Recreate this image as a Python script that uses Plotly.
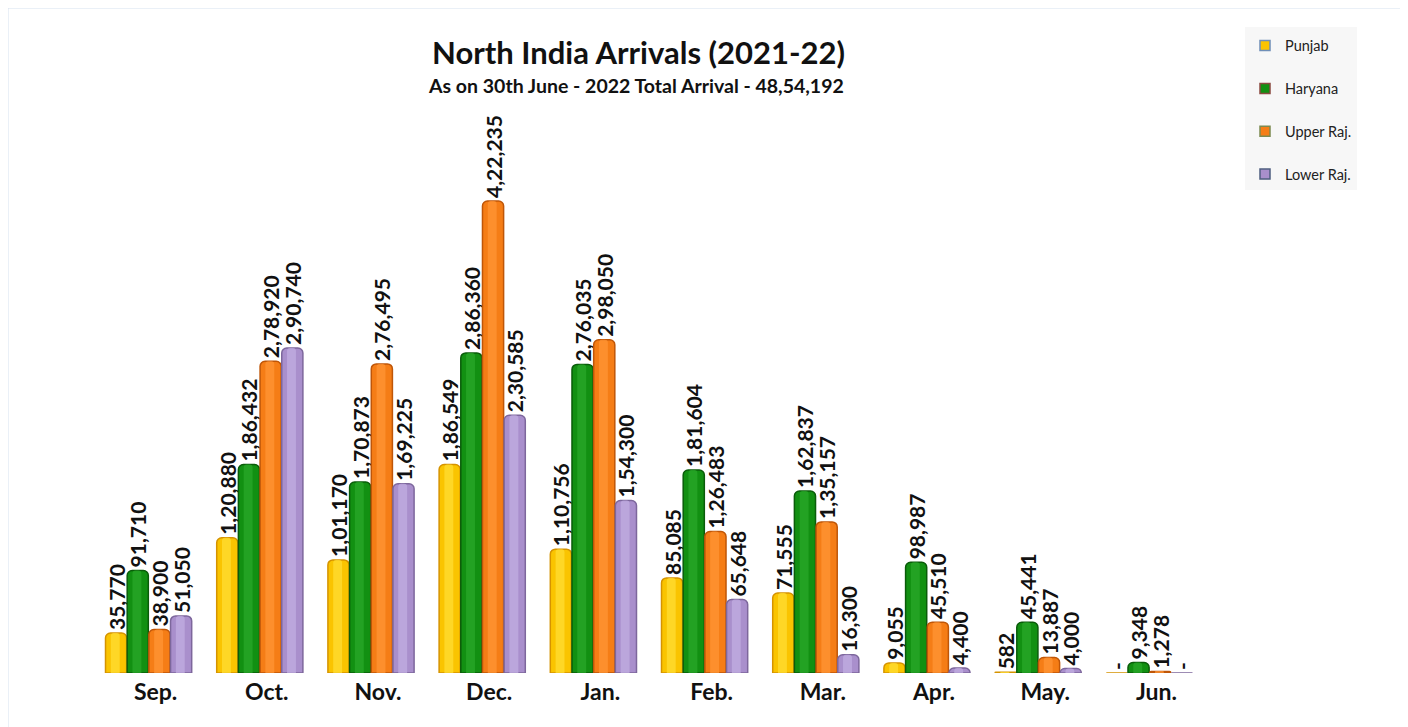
import plotly.graph_objects as go

months = ["Sep.", "Oct.", "Nov.", "Dec.", "Jan.", "Feb.", "Mar.", "Apr.", "May.", "Jun."]
punjab = [35770, 120880, 101170, 186549, 110756, 85085, 71555, 9055, 582, 0]
haryana = [91710, 186432, 170873, 286360, 276035, 181604, 162837, 98987, 45441, 9348]
upper_raj = [38900, 278920, 276495, 422235, 298050, 126483, 135157, 45510, 13887, 1278]
lower_raj = [51050, 290740, 169225, 230585, 154300, 65648, 16300, 4400, 4000, 0]

title_text = "North India Arrivals (2021-22)"
subtitle_text = "As on 30th June - 2022 Total Arrival - 48,54,192"


def indian(n):
    if n == 0:
        return "-"
    s = str(int(n))
    if len(s) <= 3:
        return s
    last3 = s[-3:]
    rest = s[:-3]
    parts = []
    while len(rest) > 2:
        parts.insert(0, rest[-2:])
        rest = rest[:-2]
    if rest:
        parts.insert(0, rest)
    return ",".join(parts) + "," + last3


# name, values, body colour, edge colour, highlight colour, legend edge
series = [
    ("Punjab", punjab, "#FAC400", "#D59300", "#FFDD33", "#6F8FB8"),
    ("Haryana", haryana, "#129012", "#0A5C0A", "#2AA82A", "#8A4A40"),
    ("Upper Raj.", upper_raj, "#F57D16", "#BF5608", "#FF9636", "#7C8A50"),
    ("Lower Raj.", lower_raj, "#A98FCC", "#7D679C", "#C2AEE2", "#4F5F80"),
]

FONT = "Lato, Carlito, Calibri, 'Open Sans', sans-serif"

# page offset (body margin) compensation
OFF = 8
PL, PR, PT, PB = 93, 1205, 100, 673  # plot area in page pixels
PW, PH = PR - PL, PB - PT

BAR_W = 0.19
STEP = 0.195
START = -(3 * STEP + BAR_W) / 2
HL_W = 0.08


def px(xp):
    return (xp - PL) / PW


def py(yp):
    return (PB - yp) / PH


fig = go.Figure()
for i, (name, vals, col, edge, hl, legedge) in enumerate(series):
    off = START + i * STEP
    fig.add_trace(go.Bar(
        name=name,
        x=months,
        y=vals,
        width=BAR_W,
        offset=off,
        marker=dict(color=col, line=dict(color=edge, width=1.5), cornerradius=5),
        text=[indian(v) for v in vals],
        textposition="outside",
        textangle=-90,
        constraintext="none",
        cliponaxis=False,
        textfont=dict(family=FONT, size=21, color="#111111", weight="bold"),
        showlegend=False,
    ))
    fig.add_trace(go.Bar(
        name=name,
        x=months,
        y=vals,
        width=HL_W,
        offset=off + BAR_W * 0.25,
        marker=dict(color=hl, line=dict(width=0), cornerradius=3, opacity=0.75),
        hoverinfo="skip",
        showlegend=False,
    ))

for name, vals, col, edge, hl, legedge in series:
    fig.add_trace(go.Scatter(
        name=name, x=[None], y=[None], mode="markers",
        marker=dict(symbol="square", size=10, color=col, line=dict(color=legedge, width=1.5)),
        legendgroup=name, showlegend=True,
    ))

fig.update_layout(
    width=1408 - OFF,
    height=727 - OFF,
    margin=dict(l=PL - OFF, r=(1408 - OFF) - (PR - OFF), t=PT - OFF, b=(727 - OFF) - (PB - OFF)),
    paper_bgcolor="white",
    plot_bgcolor="white",
    barmode="overlay",
    showlegend=True,
    legend=dict(
        x=px(1245), y=py(27), xanchor="left", yanchor="top",
        bgcolor="#F7F7F7",
        font=dict(family=FONT, size=14.5, color="#222222"),
        title=dict(text=" ", font=dict(size=2)),
        tracegroupgap=21,
        itemwidth=30,
    ),
    xaxis=dict(
        showgrid=False, showline=False, zeroline=False, ticks="",
        ticklabelshift=7, ticklabelstandoff=3,
        tickfont=dict(family=FONT, size=23, color="#111111", weight="bold"),
    ),
    yaxis=dict(
        range=[0, 512580], visible=False, showgrid=False, zeroline=False,
    ),
    annotations=[
        dict(text=title_text, xref="paper", yref="paper",
             x=px(638), y=py(52), xanchor="center", yanchor="middle",
             showarrow=False, font=dict(family=FONT, size=31, color="#111111", weight="bold")),
        dict(text=subtitle_text, xref="paper", yref="paper",
             x=px(636), y=py(85), xanchor="center", yanchor="middle",
             showarrow=False, font=dict(family=FONT, size=19.5, color="#111111", weight="bold")),
    ],
    shapes=[
        dict(type="rect", xref="paper", yref="paper",
             x0=px(7), x1=px(1404),
             y0=py(740), y1=py(7),
             line=dict(color="#D6E1EF", width=3), fillcolor="rgba(0,0,0,0)", layer="below"),
    ],
)

fig.write_html("out.html")
